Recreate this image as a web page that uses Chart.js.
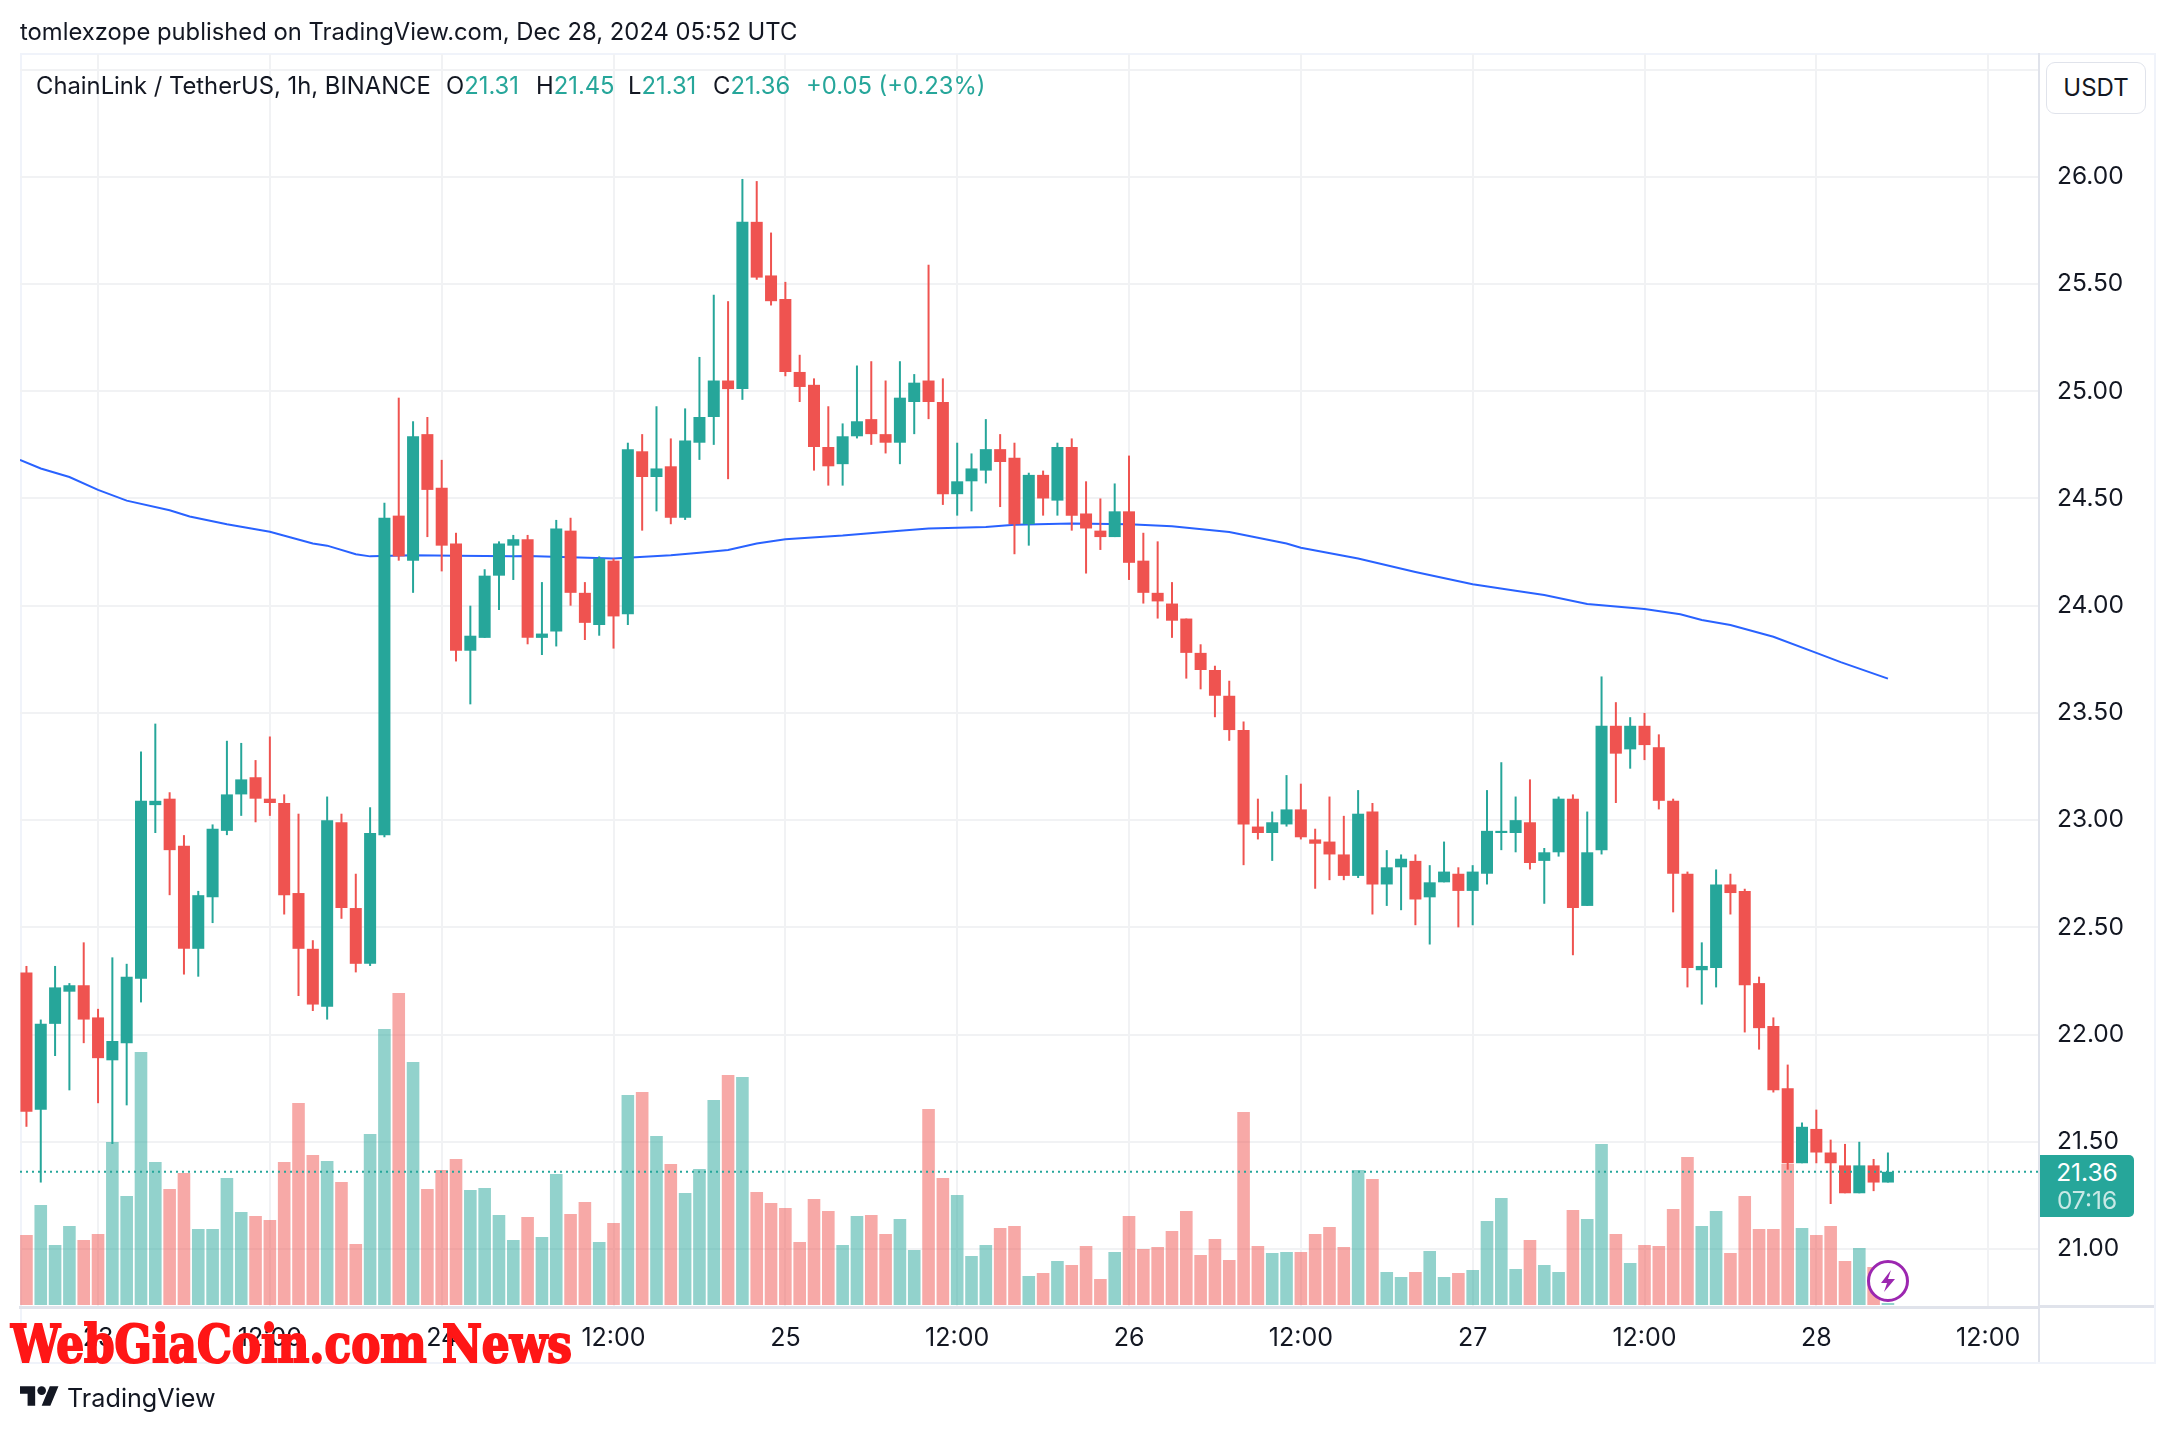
<!DOCTYPE html>
<html>
<head>
<meta charset="utf-8">
<title>ChainLink / TetherUS, 1h, BINANCE</title>
<script src="https://cdn.jsdelivr.net/npm/chart.js@4"></script>
<style>
  html, body { margin: 0; background: #fff; }
  body { position: relative; width: 2174px; height: 1432px; overflow: hidden; font-family: "Inter", sans-serif; color: #131722; }
  canvas { position: absolute; left: 0; top: 0; }
  .txt { position: absolute; white-space: nowrap; line-height: 30px; font-size: 23.8px; }
  .up { color: #26a69a; }
  #frame { position: absolute; left: 20px; top: 53px; width: 2132px; height: 1307px; border: 2px solid #f0f3fa; }
  #axisFoot { position: absolute; left: 2038px; top: 1307px; width: 2px; height: 55px; background: #e0e3eb; }
  #axisBase { position: absolute; left: 2039px; top: 1305px; width: 115px; height: 3px; background: #e0e3eb; }
  #unit { position: absolute; left: 2046px; top: 62px; width: 98px; height: 50px; border: 1px solid #e0e3eb; border-radius: 9px; text-align: center; line-height: 50px; font-size: 24px; background: #fff; }
  #priceBox { position: absolute; left: 2040px; top: 1155px; width: 94px; height: 62px; background: #26a69a; border-radius: 0 5px 5px 0; color: #fff; text-align: center; font-size: 24.5px; line-height: 28px; padding-top: 3px; box-sizing: border-box; }
  #priceBox span { display: block; opacity: .75; }
  #watermark { position: absolute; left: 11px; top: 1312px; font-family: "DejaVu Serif", serif; font-weight: 700; font-stretch: condensed; font-size: 52px; line-height: 64px; color: #ff1616; -webkit-text-stroke: 2px #ff1616; transform-origin: left top; transform: scaleX(0.935); white-space: nowrap; }
  #logo { position: absolute; left: 20px; top: 1386px; }
  #bolt { position: absolute; left: 1866px; top: 1259px; }
</style>
</head>
<body>
<div id="frame"></div>
<canvas id="candleChart" width="2174" height="1432"></canvas>
<div id="axisFoot"></div>
<div id="axisBase"></div>

<div class="txt" style="left:20px;top:17px">tomlexzope published on TradingView.com, Dec 28, 2024 05:52 UTC</div>

<div class="txt" style="left:36px;top:71px">ChainLink / TetherUS, 1h, BINANCE</div>
<div class="txt" style="left:446px;top:71px">O<span class="up">21.31</span></div>
<div class="txt" style="left:536px;top:71px">H<span class="up">21.45</span></div>
<div class="txt" style="left:628px;top:71px">L<span class="up">21.31</span></div>
<div class="txt" style="left:713px;top:71px">C<span class="up">21.36</span></div>
<div class="txt up" style="left:806px;top:71px">+0.05 (+0.23%)</div>

<div id="unit">USDT</div>
<div id="priceBox">21.36<span>07:16</span></div>

<svg id="bolt" width="44" height="44" viewBox="0 0 44 44">
  <circle cx="22" cy="22" r="19.5" fill="#fff" stroke="#9c27b0" stroke-width="3"/>
  <path d="M25 11 15 24h6l-3 9 11-13h-7z" fill="#9c27b0"/>
</svg>

<div id="watermark">WebGiaCoin.com News</div>

<svg id="logo" width="39" height="20" viewBox="0 4 36 18">
  <path d="M14 22H7V11H0V4h14v18zM28 22h-8l7.5-18h8L28 22z" fill="#131722"/>
  <circle cx="20" cy="8" r="4" fill="#131722"/>
</svg>
<div class="txt" style="left:67px;top:1383px;font-size:25.2px">TradingView</div>

<script>
// hours counted from Dec 23 00:00, first candle is Dec 22 19:00
const firstHour = -5;

const opens = [
  22.29, 21.65, 22.05, 22.20, 22.23, 22.08, 21.88, 21.96, 22.26, 23.07,
  23.10, 22.88, 22.40, 22.64, 22.95, 23.12, 23.20, 23.10, 23.08, 22.66,
  22.40, 22.13, 22.99, 22.59, 22.33, 22.93, 24.42, 24.21, 24.80, 24.55,
  24.29, 23.79, 23.85, 24.14, 24.28, 24.31, 23.85, 23.88, 24.35, 24.06,
  23.91, 24.21, 23.96, 24.72, 24.60, 24.65, 24.41, 24.76, 24.88, 25.05,
  25.01, 25.79, 25.54, 25.43, 25.09, 25.03, 24.74, 24.66, 24.79, 24.87,
  24.80, 24.76, 24.95, 25.05, 24.95, 24.52, 24.58, 24.63, 24.73, 24.69,
  24.38, 24.61, 24.49, 24.74, 24.43, 24.35, 24.32, 24.44, 24.21, 24.06,
  24.01, 23.94, 23.78, 23.70, 23.58, 23.42, 22.97, 22.94, 22.98, 23.05,
  22.91, 22.90, 22.84, 22.74, 23.04, 22.70, 22.78, 22.81, 22.64, 22.71,
  22.75, 22.67, 22.75, 22.94, 22.94, 22.99, 22.81, 22.85, 23.10, 22.60,
  22.86, 23.44, 23.33, 23.44, 23.34, 23.09, 22.75, 22.30, 22.31, 22.70,
  22.67, 22.24, 22.04, 21.75, 21.40, 21.56, 21.45, 21.39, 21.26, 21.39,
  21.31,
];
const highs = [
  22.32, 22.07, 22.32, 22.24, 22.43, 22.12, 22.36, 22.33, 23.32, 23.45,
  23.13, 22.93, 22.67, 22.98, 23.37, 23.36, 23.28, 23.39, 23.12, 23.03,
  22.44, 23.11, 23.03, 22.75, 23.06, 24.48, 24.97, 24.86, 24.88, 24.68,
  24.34, 24.00, 24.17, 24.30, 24.33, 24.33, 24.11, 24.40, 24.41, 24.11,
  24.23, 24.22, 24.76, 24.80, 24.93, 24.78, 24.92, 25.16, 25.45, 25.42,
  25.99, 25.98, 25.74, 25.51, 25.17, 25.06, 24.93, 24.85, 25.12, 25.14,
  25.05, 25.14, 25.08, 25.59, 25.06, 24.76, 24.71, 24.87, 24.80, 24.76,
  24.62, 24.63, 24.76, 24.78, 24.58, 24.50, 24.57, 24.70, 24.34, 24.30,
  24.11, 23.94, 23.82, 23.72, 23.65, 23.46, 23.10, 23.04, 23.21, 23.17,
  22.96, 23.11, 23.02, 23.14, 23.08, 22.86, 22.84, 22.84, 22.79, 22.90,
  22.78, 22.79, 23.14, 23.27, 23.11, 23.19, 22.87, 23.11, 23.12, 23.04,
  23.67, 23.55, 23.48, 23.50, 23.40, 23.10, 22.76, 22.43, 22.77, 22.75,
  22.68, 22.27, 22.08, 21.86, 21.59, 21.65, 21.51, 21.49, 21.50, 21.42,
  21.45,
];
const lows = [
  21.57, 21.31, 21.90, 21.74, 21.96, 21.68, 21.49, 21.67, 22.15, 22.94,
  22.65, 22.28, 22.27, 22.52, 22.93, 23.02, 22.99, 23.02, 22.56, 22.18,
  22.11, 22.07, 22.54, 22.29, 22.32, 22.92, 24.21, 24.06, 24.32, 24.16,
  23.74, 23.54, 23.85, 23.98, 24.12, 23.82, 23.77, 23.81, 24.00, 23.84,
  23.86, 23.80, 23.91, 24.35, 24.44, 24.38, 24.40, 24.68, 24.75, 24.59,
  24.96, 25.52, 25.40, 25.07, 24.95, 24.63, 24.56, 24.56, 24.78, 24.75,
  24.71, 24.66, 24.80, 24.87, 24.47, 24.42, 24.44, 24.57, 24.46, 24.24,
  24.28, 24.42, 24.42, 24.35, 24.15, 24.26, 24.32, 24.12, 24.01, 23.94,
  23.85, 23.66, 23.61, 23.48, 23.37, 22.79, 22.91, 22.81, 22.97, 22.91,
  22.68, 22.72, 22.72, 22.73, 22.56, 22.60, 22.58, 22.51, 22.42, 22.71,
  22.50, 22.51, 22.70, 22.86, 22.85, 22.77, 22.61, 22.83, 22.37, 22.60,
  22.84, 23.08, 23.24, 23.28, 23.05, 22.57, 22.22, 22.14, 22.22, 22.56,
  22.01, 21.93, 21.73, 21.37, 21.40, 21.40, 21.21, 21.26, 21.26, 21.27,
  21.31,
];
const closes = [
  21.64, 22.05, 22.22, 22.23, 22.07, 21.89, 21.97, 22.27, 23.09, 23.09,
  22.86, 22.40, 22.65, 22.96, 23.12, 23.19, 23.10, 23.08, 22.65, 22.40,
  22.14, 23.00, 22.59, 22.33, 22.94, 24.41, 24.23, 24.79, 24.54, 24.28,
  23.79, 23.86, 24.14, 24.29, 24.31, 23.85, 23.87, 24.36, 24.06, 23.92,
  24.22, 23.95, 24.73, 24.60, 24.64, 24.41, 24.77, 24.88, 25.05, 25.01,
  25.79, 25.53, 25.42, 25.09, 25.02, 24.74, 24.65, 24.79, 24.86, 24.80,
  24.76, 24.97, 25.04, 24.95, 24.52, 24.58, 24.64, 24.73, 24.67, 24.38,
  24.61, 24.50, 24.74, 24.42, 24.36, 24.32, 24.44, 24.20, 24.06, 24.02,
  23.93, 23.78, 23.70, 23.58, 23.42, 22.98, 22.94, 22.99, 23.05, 22.92,
  22.89, 22.84, 22.74, 23.03, 22.70, 22.78, 22.82, 22.63, 22.71, 22.76,
  22.67, 22.76, 22.95, 22.95, 23.00, 22.80, 22.85, 23.10, 22.59, 22.85,
  23.44, 23.31, 23.44, 23.35, 23.09, 22.75, 22.31, 22.32, 22.70, 22.66,
  22.23, 22.03, 21.74, 21.40, 21.57, 21.45, 21.40, 21.26, 21.39, 21.31,
  21.36,
];
const volumes = [
   70, 100,  60,  79,  65,  71, 163, 109, 253, 143,
  116, 132,  76,  76, 127,  93,  89,  85, 143, 202,
  150, 144, 123,  61, 171, 276, 312, 243, 116, 135,
  146, 115, 117,  90,  65,  88,  68, 131,  91, 103,
   63,  82, 210, 213, 169, 141, 112, 136, 205, 230,
  228, 113, 102,  97,  63, 106,  94,  60,  89,  90,
   71,  86,  55, 196, 127, 110,  49,  60,  77,  79,
   29,  32,  44,  40,  59,  26,  53,  89,  56,  58,
   74,  94,  50,  66,  45, 193,  59,  52,  53,  53,
   71,  78,  58, 135, 126,  33,  28,  33,  54,  28,
   32,  35,  84, 107,  36,  65,  40,  33,  95,  86,
  161,  71,  42,  60,  59,  96, 148,  79,  94,  52,
  109,  76,  76, 141,  77,  70,  79,  44,  57,  38,
    2,
];

const maHours = [
  -5.45, -4, -2, 0, 2, 5, 6.4, 9, 12, 15, 16, 18, 19, 22, 25, 29, 30, 36, 40, 42,
  44, 46, 48, 52, 56, 58, 62, 64, 68, 72, 75, 79, 83, 84, 88, 92, 96, 99, 101,
  104, 108, 110.5, 112, 114, 117, 120, 121.7, 125,
];
const maValues = [
  24.68, 24.64, 24.60, 24.54, 24.49, 24.445, 24.416, 24.38, 24.345, 24.29, 24.28, 24.24, 24.23, 24.235, 24.233, 24.23, 24.232, 24.22, 24.235, 24.247,
  24.26, 24.29, 24.31, 24.327, 24.35, 24.36, 24.367, 24.377, 24.383, 24.38, 24.37, 24.344, 24.29, 24.27, 24.22, 24.157, 24.10, 24.07, 24.05,
  24.008, 23.985, 23.96, 23.933, 23.91, 23.855, 23.78, 23.737, 23.66,
];

const tickHours = [0, 12, 24, 36, 48, 60, 72, 84, 96, 108, 120, 132];
const tickLabels = ["23", "12:00", "24", "12:00", "25", "12:00", "26", "12:00", "27", "12:00", "28", "12:00"];
const priceTicks = [26.5, 26, 25.5, 25, 24.5, 24, 23.5, 23, 22.5, 22, 21.5, 21];
const lastPrice = 21.36;

const GREEN = "#26a69a";
const RED = "#ef5350";
const GRID = "#f1f2f4";
const AXIS = "#e0e3eb";

function initChart() {
  const hourOf = (i) => firstHour + i;
  const isUp = (i) => closes[i] >= opens[i];
  const candleColors = opens.map((_, i) => (isUp(i) ? GREEN : RED));
  const volumeColors = opens.map((_, i) => (isUp(i) ? "rgba(38,166,154,0.5)" : "rgba(239,83,80,0.5)"));

  const xMin = -5.45;
  const xMax = 135.55;

  new Chart(document.getElementById("candleChart").getContext("2d"), {
    type: "bar",
    data: {
      datasets: [
        {
          // volume sits behind everything, on its own hidden axis
          label: "Volume",
          data: volumes.map((v, i) => ({ x: hourOf(i), y: v })),
          yAxisID: "yVol",
          backgroundColor: volumeColors,
          barThickness: 12.6,
          grouped: false,
          inflateAmount: 0,
          order: 5,
        },
        {
          type: "line",
          label: "MA",
          data: maHours.map((h, i) => ({ x: h, y: maValues[i] })),
          yAxisID: "y",
          borderColor: "#2962ff",
          borderWidth: 2,
          pointRadius: 0,
          tension: 0,
          order: 4,
        },
        {
          label: "Wick",
          data: lows.map((l, i) => ({ x: hourOf(i), y: [l, highs[i]] })),
          yAxisID: "y",
          backgroundColor: candleColors,
          barThickness: 2,
          grouped: false,
          inflateAmount: 0,
          borderSkipped: false,
          order: 3,
        },
        {
          label: "Body",
          data: opens.map((o, i) => ({ x: hourOf(i), y: [o, closes[i]] })),
          yAxisID: "y",
          backgroundColor: candleColors,
          barThickness: 12,
          grouped: false,
          inflateAmount: 0,
          borderSkipped: false,
          order: 2,
        },
        {
          type: "line",
          label: "Last price",
          data: [{ x: xMin, y: lastPrice }, { x: xMax, y: lastPrice }],
          yAxisID: "y",
          borderColor: GREEN,
          borderWidth: 2,
          borderDash: [2, 4],
          pointRadius: 0,
          order: 1,
        },
      ],
    },
    options: {
      responsive: false,
      animation: false,
      layout: { padding: { left: 20, top: 54, right: 20, bottom: 70 } },
      plugins: { legend: { display: false }, tooltip: { enabled: false } },
      scales: {
        x: {
          type: "linear",
          min: xMin,
          max: xMax,
          offset: false,
          grid: { offset: false, color: GRID, lineWidth: 2, drawTicks: false },
          border: { color: AXIS, width: 3 },
          afterBuildTicks: (axis) => {
            axis.ticks = tickHours.map((v) => ({ value: v }));
          },
          afterFit: (axis) => {
            axis.height = 55;
          },
          ticks: {
            autoSkip: false,
            maxRotation: 0,
            padding: 16,
            color: "#131722",
            font: { family: "Inter", size: 25 },
            callback: (v) => tickLabels[tickHours.indexOf(v)],
          },
        },
        y: {
          position: "right",
          min: 20.7296,
          max: 26.5727,
          grid: { color: GRID, lineWidth: 2, drawTicks: false },
          border: { color: AXIS, width: 2 },
          afterBuildTicks: (axis) => {
            axis.ticks = priceTicks.map((v) => ({ value: v }));
          },
          afterFit: (axis) => {
            axis.width = 115;
          },
          ticks: {
            autoSkip: false,
            padding: 18,
            color: "#131722",
            font: { family: "Inter", size: 24.5 },
            // 26.50 is hidden under the currency button in the original
            callback: (v) => (v === 26.5 ? "" : v.toFixed(2)),
          },
        },
        yVol: {
          display: false,
          min: -2,
          max: 1251,
          grid: { display: false },
        },
      },
    },
  });
}

document.addEventListener("DOMContentLoaded", initChart);
</script>
</body>
</html>
